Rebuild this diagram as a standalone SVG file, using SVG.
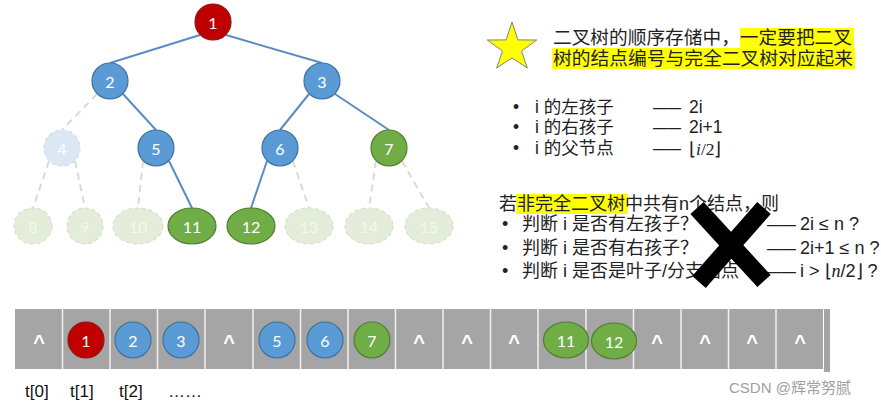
<svg xmlns="http://www.w3.org/2000/svg" width="881" height="407" viewBox="0 0 881 407">
<style>
.edge{stroke:#5B8BC5;stroke-width:2;fill:none}
.dash{stroke:#DADADA;stroke-width:2;fill:none;stroke-dasharray:7 5}
.red{fill:#C00000;stroke:#8C1A1A;stroke-width:1.2}
.blue{fill:#5B9BD5;stroke:#41719C;stroke-width:1.2}
.green{fill:#70AD47;stroke:#507E32;stroke-width:1.2}
.fblue{fill:#DCE7F4;stroke:#D3DEEC;stroke-width:1.2;stroke-dasharray:4 3}
.fgreen{fill:#E3EDDA;stroke:#D6E0CD;stroke-width:1.2;stroke-dasharray:4 3}
.num{font-family:Lato,"Open Sans","Liberation Sans",sans-serif;font-size:16px;fill:#fff;text-anchor:middle;dominant-baseline:central}
.fnum{font-family:Lato,"Open Sans","Liberation Sans",sans-serif;font-size:16px;fill:#F4F8F0;text-anchor:middle;dominant-baseline:central}
.cj{font-family:"Liberation Sans","Noto Sans CJK SC",sans-serif;fill:#222}
.caret{font-family:"Liberation Sans",sans-serif;font-weight:bold;font-size:20px;fill:#fff;text-anchor:middle}
.lbl{font-family:"Liberation Sans","Noto Sans CJK SC",sans-serif;font-size:17px;fill:#111}
.sep{stroke:#F2F2F2;stroke-width:1.5}
</style>

<!-- connectors -->
<g id="connectors">
<line class="edge" x1="200" y1="35" x2="110" y2="63"/>
<line class="edge" x1="226" y1="35" x2="322" y2="63"/>
<line class="dash" x1="97" y1="94" x2="62" y2="130"/>
<line class="edge" x1="123" y1="94" x2="156" y2="130"/>
<line class="edge" x1="309" y1="94" x2="280" y2="130"/>
<line class="edge" x1="335" y1="94" x2="389" y2="130"/>
<line class="dash" x1="49" y1="161" x2="33" y2="208"/>
<line class="dash" x1="75" y1="161" x2="85" y2="208"/>
<line class="dash" x1="143" y1="161" x2="138" y2="208"/>
<line class="edge" x1="169" y1="161" x2="192" y2="208"/>
<line class="edge" x1="267" y1="161" x2="251" y2="208"/>
<line class="dash" x1="293" y1="161" x2="309" y2="208"/>
<line class="dash" x1="376" y1="161" x2="369" y2="208"/>
<line class="dash" x1="402" y1="161" x2="429" y2="208"/>
</g>

<!-- tree nodes -->
<g id="n1"><circle class="red" cx="213" cy="22" r="18"/><text class="num" x="213" y="22">1</text></g>
<g id="n2"><circle class="blue" cx="110" cy="81" r="18"/><text class="num" x="110" y="81">2</text></g>
<g id="n3"><circle class="blue" cx="322" cy="81" r="18"/><text class="num" x="322" y="81">3</text></g>
<g id="n4"><circle class="fblue" cx="62" cy="148" r="18"/><text class="num" x="62" y="148">4</text></g>
<g id="n5"><circle class="blue" cx="156" cy="148" r="18"/><text class="num" x="156" y="148">5</text></g>
<g id="n6"><circle class="blue" cx="280" cy="148" r="18"/><text class="num" x="280" y="148">6</text></g>
<g id="n7"><circle class="green" cx="389" cy="148" r="18"/><text class="num" x="389" y="148">7</text></g>
<g id="n8"><ellipse class="fgreen" cx="33" cy="226" rx="19" ry="18"/><text class="fnum" x="33" y="226">8</text></g>
<g id="n9"><ellipse class="fgreen" cx="85" cy="226" rx="18" ry="18"/><text class="fnum" x="85" y="226">9</text></g>
<g id="n10"><ellipse class="fgreen" cx="138" cy="226" rx="25" ry="18"/><text class="fnum" x="138" y="226">10</text></g>
<g id="n11"><ellipse class="green" cx="192" cy="226" rx="24" ry="18"/><text class="num" x="192" y="226">11</text></g>
<g id="n12"><ellipse class="green" cx="251" cy="226" rx="24" ry="18"/><text class="num" x="251" y="226">12</text></g>
<g id="n13"><ellipse class="fgreen" cx="309" cy="226" rx="24" ry="18"/><text class="fnum" x="309" y="226">13</text></g>
<g id="n14"><ellipse class="fgreen" cx="369" cy="226" rx="24" ry="18"/><text class="fnum" x="369" y="226">14</text></g>
<g id="n15"><ellipse class="fgreen" cx="429" cy="226" rx="24" ry="18"/><text class="fnum" x="429" y="226">15</text></g>

<!-- star note -->
<g id="star-note">
<polygon points="512,22 517.9,39.9 536.7,40 521.5,51.1 527.3,68 512,58 496.7,68 502.5,51.1 487.3,40 506.1,39.9" fill="#FFFF00" stroke="#808080" stroke-width="1"/>
<rect x="740" y="28" width="114" height="20" fill="#FFFF00"/>
<rect x="552" y="48" width="303" height="21" fill="#FFFF00"/>
<text class="cj" x="553" y="44" font-size="18.5" textLength="299" lengthAdjust="spacingAndGlyphs">二叉树的顺序存储中，一定要把二叉</text>
<text class="cj" x="553" y="65" font-size="18.5" textLength="300" lengthAdjust="spacingAndGlyphs">树的结点编号与完全二叉树对应起来</text>
</g>

<!-- formulas -->
<g id="formulas" class="cj" font-size="17.5">
<text x="513" y="113">•</text><text x="535" y="113">i 的左孩子</text>
<text x="653" y="113" textLength="28" lengthAdjust="spacingAndGlyphs">——</text><text x="689" y="113">2i</text>
<text x="513" y="133">•</text><text x="535" y="133">i 的右孩子</text>
<text x="653" y="133" textLength="28" lengthAdjust="spacingAndGlyphs">——</text><text x="689" y="133">2i+1</text>
<text x="513" y="154">•</text><text x="535" y="154">i 的父节点</text>
<text x="653" y="154" textLength="28" lengthAdjust="spacingAndGlyphs">——</text><text x="689" y="155" font-family="'Liberation Serif',serif">⌊<tspan font-style="italic">i</tspan>/2⌋</text>
</g>

<!-- non-complete tree note -->
<g id="noncomplete">
<rect x="516" y="194" width="112" height="20" fill="#FFFF00"/>
<text class="cj" x="499" y="210" font-size="18">若非完全二叉树中共有n个结点，则</text>
<g class="cj" font-size="18">
<text x="502" y="230">•</text><text x="522" y="230">判断 i 是否有左孩子？</text>
<text x="767" y="230" textLength="29" lengthAdjust="spacingAndGlyphs">——</text><text x="800" y="230">2i ≤ n ?</text>
<text x="502" y="254">•</text><text x="522" y="254">判断 i 是否有右孩子？</text>
<text x="767" y="254" textLength="29" lengthAdjust="spacingAndGlyphs">——</text><text x="800" y="254">2i+1 ≤ n ?</text>
<text x="502" y="277">•</text><text x="522" y="277">判断 i 是否是叶子/分支结点</text>
<text x="767" y="277" textLength="29" lengthAdjust="spacingAndGlyphs">——</text><text x="800" y="277">i &gt; ⌊<tspan font-family="'Liberation Serif',serif" font-style="italic">n</tspan>/2⌋ ?</text>
</g>
<line x1="697" y1="208" x2="764" y2="281" stroke="#000" stroke-width="18"/>
<line x1="764" y1="208" x2="699" y2="282" stroke="#000" stroke-width="18"/>
</g>

<!-- array -->
<g id="array">
<rect x="15" y="309" width="808" height="60" fill="#A5A5A5"/>
<rect x="824" y="309" width="6" height="63" fill="#A5A5A5"/>
<g class="sep">
<line x1="62.5" y1="309" x2="62.5" y2="369"/><line x1="110" y1="309" x2="110" y2="369"/>
<line x1="157.5" y1="309" x2="157.5" y2="369"/><line x1="205" y1="309" x2="205" y2="369"/>
<line x1="253" y1="309" x2="253" y2="369"/><line x1="300.5" y1="309" x2="300.5" y2="369"/>
<line x1="348" y1="309" x2="348" y2="369"/><line x1="395.5" y1="309" x2="395.5" y2="369"/>
<line x1="443" y1="309" x2="443" y2="369"/><line x1="490.5" y1="309" x2="490.5" y2="369"/>
<line x1="538" y1="309" x2="538" y2="369"/><line x1="586" y1="309" x2="586" y2="369"/>
<line x1="633.5" y1="309" x2="633.5" y2="369"/><line x1="681" y1="309" x2="681" y2="369"/>
<line x1="728.5" y1="309" x2="728.5" y2="369"/><line x1="776" y1="309" x2="776" y2="369"/>
</g>
<text class="caret" x="39" y="349">^</text>
<text class="caret" x="229" y="349">^</text>
<text class="caret" x="419" y="349">^</text>
<text class="caret" x="467" y="349">^</text>
<text class="caret" x="514" y="349">^</text>
<text class="caret" x="657" y="349">^</text>
<text class="caret" x="705" y="349">^</text>
<text class="caret" x="752" y="349">^</text>
<text class="caret" x="800" y="349">^</text>
</g>
<g id="a1"><circle class="red" cx="86" cy="340" r="18"/><text class="num" x="86" y="340">1</text></g>
<g id="a2"><circle class="blue" cx="133" cy="340" r="18"/><text class="num" x="133" y="340">2</text></g>
<g id="a3"><circle class="blue" cx="181" cy="340" r="18"/><text class="num" x="181" y="340">3</text></g>
<g id="a5"><circle class="blue" cx="277" cy="340" r="18"/><text class="num" x="277" y="340">5</text></g>
<g id="a6"><circle class="blue" cx="325" cy="340" r="18"/><text class="num" x="325" y="340">6</text></g>
<g id="a7"><circle class="green" cx="372" cy="340" r="18"/><text class="num" x="372" y="340">7</text></g>
<g id="a11"><ellipse class="green" cx="566" cy="340" rx="22.5" ry="18"/><text class="num" x="566" y="340" font-size="14">11</text></g>
<g id="a12"><ellipse class="green" cx="614" cy="341" rx="22.5" ry="18"/><text class="num" x="614" y="341" font-size="14">12</text></g>

<g id="labels">
<text class="lbl" x="25" y="397">t[0]</text>
<text class="lbl" x="70" y="397">t[1]</text>
<text class="lbl" x="119" y="397">t[2]</text>
<text class="lbl" x="168" y="397">……</text>
</g>
<text x="729" y="393" font-family="'Liberation Sans','Noto Sans CJK SC',sans-serif" font-size="15" fill="#A0A0A0">CSDN @辉常努腻</text>
</svg>
